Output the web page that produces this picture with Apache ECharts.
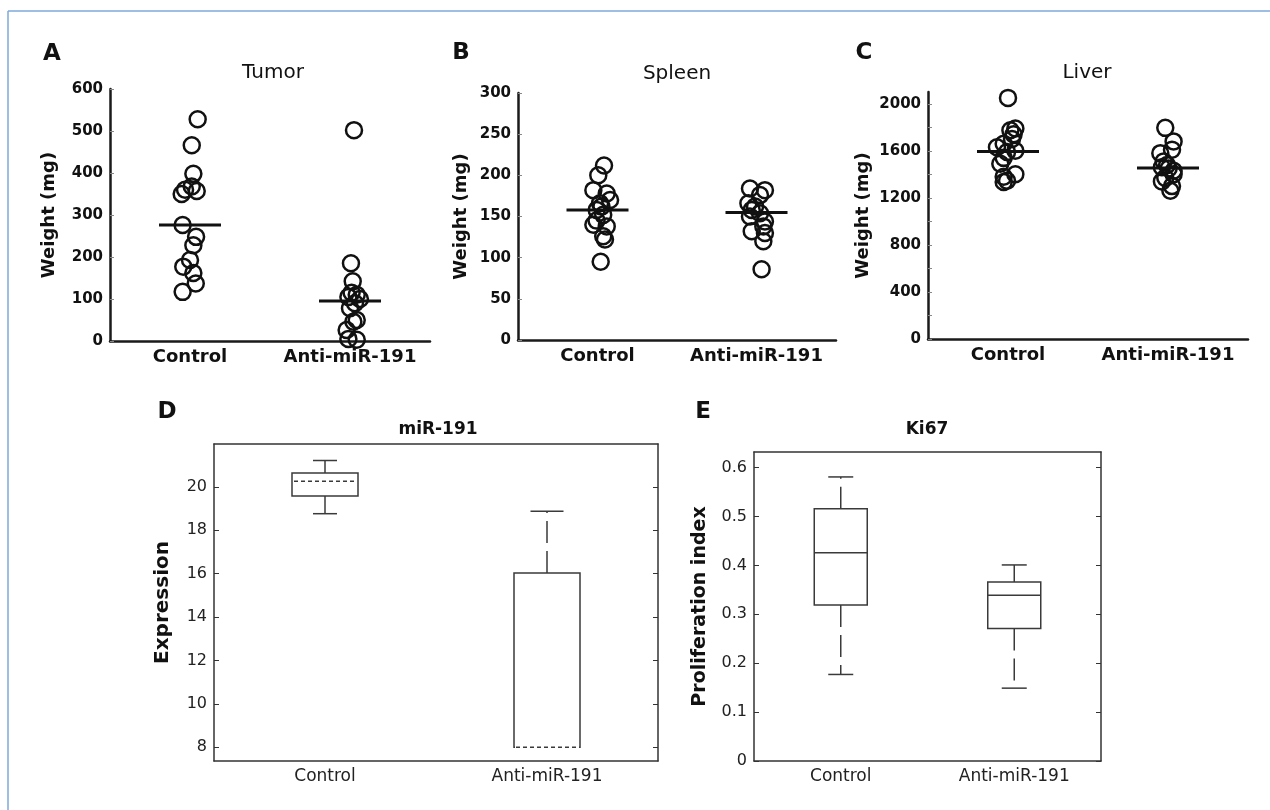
<!DOCTYPE html>
<html><head><meta charset="utf-8">
<script src="https://cdn.jsdelivr.net/npm/echarts@6/dist/echarts.min.js"></script>
<style>html,body{margin:0;padding:0;background:#fff}#c{width:1270px;height:810px}</style>
</head><body><div id="c"></div>
<script>
// ---------------- data ----------------
const categories = ['Control', 'Anti-miR-191'];

// Panel A: Tumor weight (mg)
const tumorControl = [528, 466, 398, 368, 360, 357, 350, 276, 248, 228, 193, 177, 162, 137, 117];
const tumorControlJitter = [0.048, 0.011, 0.021, 0.011, -0.031, 0.042, -0.052, -0.046, 0.038, 0.021, 0, -0.042, 0.021, 0.036, -0.046];
const tumorAnti = [502, 185, 142, 115, 110, 105, 100, 90, 78, 50, 46, 26, 5, 3];
const tumorAntiJitter = [0.025, 0.006, 0.017, 0.010, 0.042, -0.010, 0.062, 0.031, 0, 0.042, 0.021, -0.021, -0.010, 0.042];
const tumorMedian = [276, 95];
const tumorTicks = [0, 100, 200, 300, 400, 500, 600];

// Panel B: Spleen weight (mg)
const spleenControl = [212, 200, 182, 178, 170, 166, 162, 158, 152, 145, 140, 138, 126, 122, 95];
const spleenControlJitter = [0.041, 0.005, -0.026, 0.058, 0.079, 0.016, 0.025, -0.005, 0.036, -0.006, -0.026, 0.058, 0.036, 0.047, 0.020];
const spleenAnti = [184, 182, 176, 166, 162, 158, 154, 150, 144, 138, 132, 130, 120, 86];
const spleenAntiJitter = [-0.041, 0.053, 0.022, -0.051, -0.009, -0.030, 0.022, -0.041, 0.053, 0.043, -0.030, 0.053, 0.043, 0.032];
const spleenMedian = [158, 155];
const spleenTicks = [0, 50, 100, 150, 200, 250, 300];

// Panel C: Liver weight (mg)
const liverControl = [2050, 1790, 1775, 1740, 1700, 1660, 1630, 1600, 1590, 1540, 1490, 1400, 1380, 1345, 1335];
const liverControlJitter = [0, 0.046, 0.015, 0.035, 0.025, -0.027, -0.069, 0.046, -0.006, -0.027, -0.048, 0.046, -0.027, -0.006, -0.027];
const liverAnti = [1795, 1680, 1610, 1580, 1510, 1480, 1460, 1450, 1430, 1400, 1370, 1340, 1300, 1260];
const liverAntiJitter = [-0.017, 0.035, 0.025, -0.048, -0.027, -0.006, -0.038, 0.004, 0.035, 0.035, -0.017, -0.038, 0.025, 0.015];
const liverMedian = [1594, 1453];
const liverLabelTicks = [0, 400, 800, 1200, 1600, 2000];
const liverMinorTicks = [0, 200, 400, 600, 800, 1000, 1200, 1400, 1600, 1800, 2000];

// Panel D: miR-191 expression  [lower whisker, Q1, median, Q3, upper whisker]
const mirControl = [18.76, 19.57, 20.25, 20.64, 21.21];
const mirAnti = [8.0, 8.0, 8.0, 16.03, 18.87];
const mirTicks = [8, 10, 12, 14, 16, 18, 20];

// Panel E: Ki67 proliferation index  [lower whisker, Q1, median, Q3, upper whisker]
const ki67Control = [0.177, 0.319, 0.426, 0.516, 0.581];
const ki67Anti = [0.149, 0.271, 0.339, 0.366, 0.401];
const ki67Ticks = [0, 0.1, 0.2, 0.3, 0.4, 0.5, 0.6];

// ---------------- styles ----------------
const FONT = 'DejaVu Sans';
const INK = '#111';

function jitterPoints(vals, jit, idx) { return vals.map((v, i) => [idx + jit[i], v]); }

function dotAxesX(g) {
  return [
    { gridIndex: g, type: 'category', data: categories,
      axisLine: { onZero: false, lineStyle: { color: '#1a1a1a', width: 2.5 } },
      axisTick: { inside: true, alignWithLabel: true, length: 4, lineStyle: { color: '#888' } },
      axisLabel: { interval: 0, margin: 7, color: INK, fontFamily: FONT, fontWeight: 'bold', fontSize: 18 } },
    { gridIndex: g, type: 'value', min: -0.5, max: 1.5, show: false }
  ];
}
function dotAxisY(g, max, labels, ticks, nameGap) {
  return { gridIndex: g, type: 'value', min: 0, max: max,
    axisLine: { show: true, onZero: false, lineStyle: { color: '#1a1a1a', width: 2.5 } },
    axisTick: { show: true, inside: true, length: 4, customValues: ticks, lineStyle: { color: '#888' } },
    axisLabel: { customValues: labels, formatter: v => String(v), margin: 7, color: INK, fontFamily: FONT, fontWeight: 'bold', fontSize: 15 },
    splitLine: { show: false },
    name: 'Weight (mg)', nameLocation: 'middle', nameGap: nameGap,
    nameTextStyle: { color: INK, fontFamily: FONT, fontWeight: 'bold', fontSize: 18 } };
}
function dotSeries(xi, yi, ctrl, ctrlJ, anti, antiJ, med) {
  const circle = { color: 'rgba(0,0,0,0)', borderColor: INK, borderWidth: 2.5, opacity: 1 };
  return [
    { type: 'scatter', xAxisIndex: xi + 1, yAxisIndex: yi, data: jitterPoints(ctrl, ctrlJ, 0), symbol: 'circle', symbolSize: 16, itemStyle: circle, silent: true, z: 3 },
    { type: 'scatter', xAxisIndex: xi + 1, yAxisIndex: yi, data: jitterPoints(anti, antiJ, 1), symbol: 'circle', symbolSize: 16, itemStyle: circle, silent: true, z: 3 },
    { type: 'scatter', xAxisIndex: xi, yAxisIndex: yi, data: med, symbol: 'rect', symbolSize: [62, 3], itemStyle: { color: INK, opacity: 1 }, silent: true, z: 4 }
  ];
}

function boxAxesX(g) {
  const base = { gridIndex: g, type: 'category', data: categories };
  return [
    Object.assign({}, base, { position: 'bottom',
      axisLine: { onZero: false, lineStyle: { color: '#333', width: 1.5 } },
      axisTick: { inside: true, alignWithLabel: true, length: 5, lineStyle: { color: '#333' } },
      axisLabel: { interval: 0, margin: 7, color: '#222', fontFamily: FONT, fontSize: 17 } }),
    Object.assign({}, base, { position: 'top',
      axisLine: { onZero: false, lineStyle: { color: '#333', width: 1.5 } },
      axisTick: { inside: true, alignWithLabel: true, length: 5, lineStyle: { color: '#333' } },
      axisLabel: { show: false } })
  ];
}
function boxAxesY(g, min, max, ticks, name, nameGap, nameSize) {
  return [
    { gridIndex: g, type: 'value', position: 'left', min: min, max: max,
      axisLine: { show: true, onZero: false, lineStyle: { color: '#333', width: 1.5 } },
      axisTick: { show: true, inside: true, length: 5, customValues: ticks, lineStyle: { color: '#333' } },
      axisLabel: { customValues: ticks, margin: 7, color: '#222', fontFamily: FONT, fontSize: 16 },
      splitLine: { show: false },
      name: name, nameLocation: 'middle', nameGap: nameGap,
      nameTextStyle: { color: INK, fontFamily: FONT, fontWeight: 'bold', fontSize: nameSize } },
    { gridIndex: g, type: 'value', position: 'right', min: min, max: max,
      axisLine: { show: true, onZero: false, lineStyle: { color: '#333', width: 1.5 } },
      axisTick: { show: true, inside: true, length: 5, customValues: ticks, lineStyle: { color: '#333' } },
      axisLabel: { show: false }, splitLine: { show: false } }
  ];
}
function boxRenderer(cfg) {
  return function (params, api) {
    const i = api.value(0);
    const p = k => api.coord([i, api.value(k)]);
    const lw = p(1), q1 = p(2), md = p(3), q3 = p(4), uw = p(5);
    const cx = lw[0], hw = cfg.boxWidth / 2, cw = cfg.capWidth[params.dataIndex] / 2;
    const st = { stroke: '#3a3a3a', lineWidth: 1.5, fill: 'none' };
    const ch = [];
    if (Math.abs(uw[1] - q3[1]) > 0.5) {
      ch.push({ type: 'line', shape: { x1: cx, y1: q3[1], x2: cx, y2: uw[1] }, style: Object.assign({}, st, { lineDash: [22, 8] }) });
      ch.push({ type: 'line', shape: { x1: cx - cw, y1: uw[1], x2: cx + cw, y2: uw[1] }, style: st });
    }
    if (Math.abs(lw[1] - q1[1]) > 0.5) {
      ch.push({ type: 'line', shape: { x1: cx, y1: q1[1], x2: cx, y2: lw[1] }, style: Object.assign({}, st, { lineDash: [22, 8] }) });
      ch.push({ type: 'line', shape: { x1: cx - cw, y1: lw[1], x2: cx + cw, y2: lw[1] }, style: st });
    }
    ch.push({ type: 'rect', shape: { x: cx - hw, y: q3[1], width: 2 * hw, height: q1[1] - q3[1] }, style: Object.assign({}, st, { fill: '#fff' }) });
    if (cfg.medianDash) {
      ch.push({ type: 'line', shape: { x1: cx - hw + 1, y1: md[1], x2: cx + hw - 1, y2: md[1] }, style: { stroke: '#fff', lineWidth: 2.5 } });
      ch.push({ type: 'line', shape: { x1: cx - hw + 2, y1: md[1], x2: cx + hw - 2, y2: md[1] }, style: Object.assign({}, st, { lineDash: [4, 3] }) });
    } else {
      ch.push({ type: 'line', shape: { x1: cx - hw, y1: md[1], x2: cx + hw, y2: md[1] }, style: st });
    }
    return { type: 'group', children: ch };
  };
}

function txt(x, y, text, size, weight) {
  return { type: 'text', x: x, y: y, silent: true,
    style: { text: text, fontFamily: FONT, fontSize: size, fontWeight: weight, fill: INK, align: 'center', verticalAlign: 'middle' } };
}

const option = {
  backgroundColor: '#fff',
  animation: false,
  grid: [
    { left: 110, top: 89, width: 320, height: 252, outerBoundsMode: 'none' },
    { left: 518, top: 93, width: 318, height: 247, outerBoundsMode: 'none' },
    { left: 928, top: 92, width: 320, height: 247, outerBoundsMode: 'none' },
    { left: 214, top: 444, width: 444, height: 317, outerBoundsMode: 'none' },
    { left: 754, top: 452, width: 347, height: 309, outerBoundsMode: 'none' }
  ],
  xAxis: [].concat(dotAxesX(0), dotAxesX(1), dotAxesX(2), boxAxesX(3), boxAxesX(4)),
  yAxis: [
    dotAxisY(0, 600, tumorTicks, tumorTicks, 52),
    dotAxisY(1, 300, spleenTicks, spleenTicks, 48),
    dotAxisY(2, 2100, liverLabelTicks, liverMinorTicks, 56)
  ].concat(
    boxAxesY(3, 7.37, 21.97, mirTicks, 'Expression', 41, 20),
    boxAxesY(4, 0, 0.632, ki67Ticks, 'Proliferation index', 44, 19)
  ),
  series: [].concat(
    dotSeries(0, 0, tumorControl, tumorControlJitter, tumorAnti, tumorAntiJitter, tumorMedian),
    dotSeries(2, 1, spleenControl, spleenControlJitter, spleenAnti, spleenAntiJitter, spleenMedian),
    dotSeries(4, 2, liverControl, liverControlJitter, liverAnti, liverAntiJitter, liverMedian),
    [
      { type: 'custom', xAxisIndex: 6, yAxisIndex: 3, encode: { x: 0, y: [1, 2, 3, 4, 5] },
        data: [[0].concat(mirControl), [1].concat(mirAnti)],
        renderItem: boxRenderer({ boxWidth: 66, capWidth: [24, 33], medianDash: true }), silent: true },
      { type: 'custom', xAxisIndex: 8, yAxisIndex: 5, encode: { x: 0, y: [1, 2, 3, 4, 5] },
        data: [[0].concat(ki67Control), [1].concat(ki67Anti)],
        renderItem: boxRenderer({ boxWidth: 53, capWidth: [25, 25], medianDash: false }), silent: true }
    ]
  ),
  graphic: [
    { type: 'line', silent: true, shape: { x1: 8, y1: 11, x2: 1270, y2: 11 }, style: { stroke: '#7fa8da', lineWidth: 1.5 } },
    { type: 'line', silent: true, shape: { x1: 8, y1: 11, x2: 8, y2: 810 }, style: { stroke: '#7fa8da', lineWidth: 1.5 } },
    txt(52, 54, 'A', 23, 'bold'),
    txt(461, 53, 'B', 23, 'bold'),
    txt(864, 53, 'C', 23, 'bold'),
    txt(167, 412, 'D', 23, 'bold'),
    txt(703, 412, 'E', 23, 'bold'),
    txt(273, 73, 'Tumor', 20, 'normal'),
    txt(677, 74, 'Spleen', 20, 'normal'),
    txt(1087, 73, 'Liver', 20, 'normal'),
    txt(438, 430, 'miR-191', 17, 'bold'),
    txt(927, 430, 'Ki67', 17, 'bold')
  ]
};

const chart = echarts.init(document.getElementById('c'), null, { renderer: 'canvas' });
chart.setOption(option);
</script>
</body></html>
